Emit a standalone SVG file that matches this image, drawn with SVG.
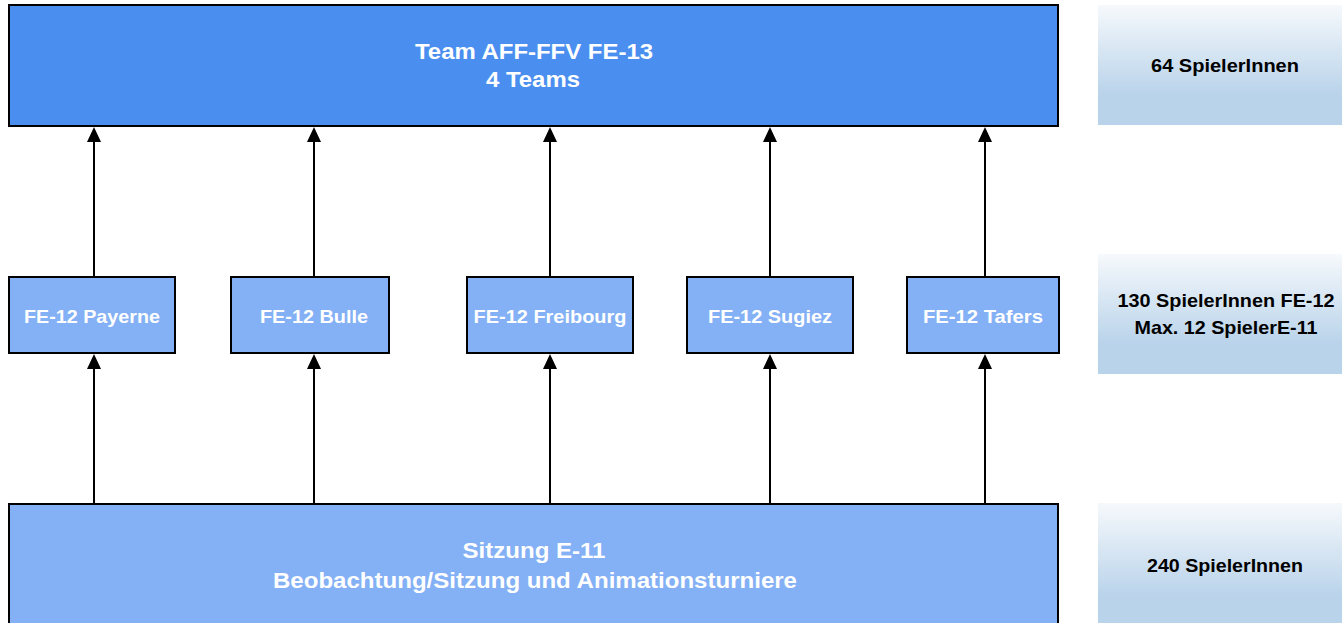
<svg xmlns="http://www.w3.org/2000/svg" width="1342" height="623" viewBox="0 0 1342 623">
<defs>
<linearGradient id="g" x1="0" y1="0" x2="0" y2="1">
<stop offset="0" stop-color="#F6F9FC"/>
<stop offset="0.75" stop-color="#B9D3EA"/>
<stop offset="1" stop-color="#B9D3EA"/>
</linearGradient>
</defs>
<style>
.main{fill:#4A8EF0;stroke:#000;stroke-width:2}
.sub{fill:#84B0F5;stroke:#000;stroke-width:2}
.side{fill:url(#g)}
.wt{font-family:"Liberation Sans",Arial,sans-serif;font-weight:bold;fill:#fff;text-anchor:middle}
.bt{font-family:"Liberation Sans",Arial,sans-serif;font-weight:bold;fill:#000;text-anchor:middle;font-size:19px}
.ln{stroke:#000;stroke-width:2;fill:none}
.hd{fill:#000}
</style>
<rect width="1342" height="623" fill="#fff"/>
<g id="connectors">
<line class="ln" x1="94" y1="277" x2="94" y2="140"/>
<polygon class="hd" points="94,127 87,142 101,142"/>
<line class="ln" x1="314" y1="277" x2="314" y2="140"/>
<polygon class="hd" points="314,127 307,142 321,142"/>
<line class="ln" x1="550" y1="277" x2="550" y2="140"/>
<polygon class="hd" points="550,127 543,142 557,142"/>
<line class="ln" x1="770" y1="277" x2="770" y2="140"/>
<polygon class="hd" points="770,127 763,142 777,142"/>
<line class="ln" x1="985" y1="277" x2="985" y2="140"/>
<polygon class="hd" points="985,127 978,142 992,142"/>
<line class="ln" x1="94" y1="504" x2="94" y2="366"/>
<polygon class="hd" points="94,354 87,369 101,369"/>
<line class="ln" x1="314" y1="504" x2="314" y2="366"/>
<polygon class="hd" points="314,354 307,369 321,369"/>
<line class="ln" x1="550" y1="504" x2="550" y2="366"/>
<polygon class="hd" points="550,354 543,369 557,369"/>
<line class="ln" x1="770" y1="504" x2="770" y2="366"/>
<polygon class="hd" points="770,354 763,369 777,369"/>
<line class="ln" x1="985" y1="504" x2="985" y2="366"/>
<polygon class="hd" points="985,354 978,369 992,369"/>
</g>
<g id="top">
<rect class="main" x="9" y="5" width="1049" height="121"/>
<text class="wt" x="534" y="59" font-size="22" textLength="238" lengthAdjust="spacingAndGlyphs">Team AFF-FFV FE-13</text>
<text class="wt" x="533" y="87" font-size="22" textLength="94" lengthAdjust="spacingAndGlyphs">4 Teams</text>
</g>
<g id="payerne">
<rect class="sub" x="9" y="277" width="166" height="76"/>
<text class="wt" x="92" y="323" font-size="19" textLength="136" lengthAdjust="spacingAndGlyphs">FE-12 Payerne</text>
</g>
<g id="bulle">
<rect class="sub" x="231" y="277" width="158" height="76"/>
<text class="wt" x="314" y="323" font-size="19" textLength="108" lengthAdjust="spacingAndGlyphs">FE-12 Bulle</text>
</g>
<g id="freibourg">
<rect class="sub" x="467" y="277" width="166" height="76"/>
<text class="wt" x="550" y="323" font-size="19" textLength="153" lengthAdjust="spacingAndGlyphs">FE-12 Freibourg</text>
</g>
<g id="sugiez">
<rect class="sub" x="687" y="277" width="166" height="76"/>
<text class="wt" x="770" y="323" font-size="19" textLength="124" lengthAdjust="spacingAndGlyphs">FE-12 Sugiez</text>
</g>
<g id="tafers">
<rect class="sub" x="907" y="277" width="152" height="76"/>
<text class="wt" x="983" y="323" font-size="19" textLength="120" lengthAdjust="spacingAndGlyphs">FE-12 Tafers</text>
</g>
<g id="bottom">
<rect class="sub" x="9" y="504" width="1049" height="125"/>
<text class="wt" x="534" y="558" font-size="22" textLength="143" lengthAdjust="spacingAndGlyphs">Sitzung E-11</text>
<text class="wt" x="535" y="588" font-size="22" textLength="524" lengthAdjust="spacingAndGlyphs">Beobachtung/Sitzung und Animationsturniere</text>
</g>
<g id="side1">
<rect class="side" x="1098" y="5" width="244" height="120"/>
<text class="bt" x="1225" y="72" textLength="148" lengthAdjust="spacingAndGlyphs">64 SpielerInnen</text>
</g>
<g id="side2">
<rect class="side" x="1098" y="254" width="244" height="120"/>
<text class="bt" x="1226" y="307" textLength="217" lengthAdjust="spacingAndGlyphs">130 SpielerInnen FE-12</text>
<text class="bt" x="1226" y="334" textLength="183" lengthAdjust="spacingAndGlyphs">Max. 12 SpielerE-11</text>
</g>
<g id="side3">
<rect class="side" x="1098" y="503" width="244" height="125"/>
<text class="bt" x="1225" y="572" textLength="156" lengthAdjust="spacingAndGlyphs">240 SpielerInnen</text>
</g>
</svg>
